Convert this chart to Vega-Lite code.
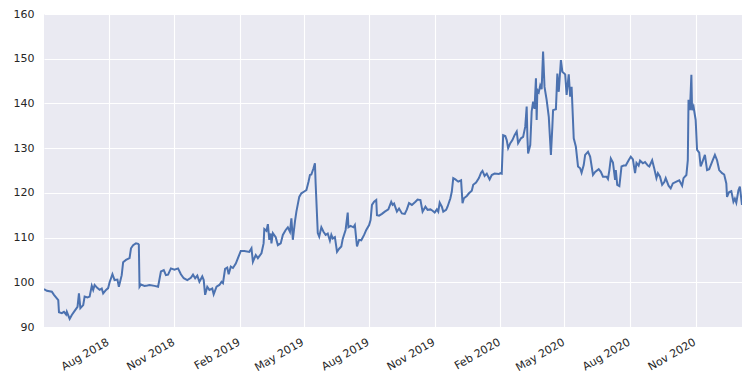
{
  "$schema": "https://vega.github.io/schema/vega-lite/v6.json",
  "width": 698,
  "height": 313,
  "autosize": {"type": "none"},
  "padding": {"left": 44, "top": 14, "right": 14, "bottom": 55},
  "background": "white",
  "config": {
    "view": {"fill": "#EAEAF2", "stroke": null},
    "axis": {
      "domain": false,
      "ticks": false,
      "grid": true,
      "gridColor": "#FFFFFF",
      "gridWidth": 1.1,
      "labelFont": "DejaVu Sans",
      "labelFontSize": 11,
      "labelColor": "#262626",
      "title": null
    }
  },
  "data": {"values": [
    {"d":"2018-05-02","v":98.5},{"d":"2018-05-06","v":98.1},{"d":"2018-05-13","v":97.9},{"d":"2018-05-16","v":97.2},
    {"d":"2018-05-20","v":96.4},{"d":"2018-05-22","v":96.0},{"d":"2018-05-23","v":93.3},{"d":"2018-05-27","v":93.1},
    {"d":"2018-05-30","v":93.4},{"d":"2018-06-02","v":92.8},{"d":"2018-06-03","v":93.4},{"d":"2018-06-07","v":91.8},
    {"d":"2018-06-10","v":92.7},{"d":"2018-06-14","v":93.6},{"d":"2018-06-18","v":94.5},{"d":"2018-06-20","v":97.5},
    {"d":"2018-06-22","v":94.2},{"d":"2018-06-26","v":94.9},{"d":"2018-06-28","v":96.8},{"d":"2018-07-02","v":96.6},
    {"d":"2018-07-05","v":96.8},{"d":"2018-07-08","v":99.2},{"d":"2018-07-10","v":98.3},{"d":"2018-07-12","v":99.4},
    {"d":"2018-07-16","v":98.7},{"d":"2018-07-19","v":98.3},{"d":"2018-07-22","v":98.6},{"d":"2018-07-24","v":97.5},
    {"d":"2018-07-28","v":98.3},{"d":"2018-07-31","v":98.7},{"d":"2018-08-02","v":100.0},{"d":"2018-08-06","v":101.8},
    {"d":"2018-08-09","v":100.5},{"d":"2018-08-13","v":100.6},{"d":"2018-08-15","v":99.0},{"d":"2018-08-19","v":101.6},
    {"d":"2018-08-21","v":104.5},{"d":"2018-08-25","v":105.0},{"d":"2018-08-30","v":105.4},{"d":"2018-09-01","v":107.6},
    {"d":"2018-09-04","v":108.3},{"d":"2018-09-08","v":108.7},{"d":"2018-09-11","v":108.6},{"d":"2018-09-12","v":108.4},
    {"d":"2018-09-13","v":99.0},{"d":"2018-09-15","v":99.5},{"d":"2018-09-20","v":99.2},{"d":"2018-09-24","v":99.3},
    {"d":"2018-09-27","v":99.4},{"d":"2018-10-04","v":99.2},{"d":"2018-10-09","v":99.0},{"d":"2018-10-13","v":102.4},
    {"d":"2018-10-17","v":102.7},{"d":"2018-10-20","v":101.6},{"d":"2018-10-23","v":101.7},{"d":"2018-10-27","v":103.1},
    {"d":"2018-11-01","v":102.8},{"d":"2018-11-06","v":103.1},{"d":"2018-11-10","v":101.8},{"d":"2018-11-14","v":100.9},
    {"d":"2018-11-19","v":100.5},{"d":"2018-11-24","v":101.0},{"d":"2018-11-27","v":101.7},{"d":"2018-11-30","v":100.9},
    {"d":"2018-12-03","v":101.5},{"d":"2018-12-06","v":100.1},{"d":"2018-12-10","v":101.3},{"d":"2018-12-12","v":100.5},
    {"d":"2018-12-14","v":97.2},{"d":"2018-12-17","v":99.0},{"d":"2018-12-20","v":98.3},{"d":"2018-12-24","v":98.6},
    {"d":"2018-12-26","v":97.3},{"d":"2018-12-30","v":99.0},{"d":"2019-01-03","v":99.4},{"d":"2019-01-06","v":100.1},
    {"d":"2019-01-08","v":99.8},{"d":"2019-01-11","v":103.0},{"d":"2019-01-14","v":103.3},{"d":"2019-01-16","v":101.8},
    {"d":"2019-01-19","v":103.5},{"d":"2019-01-22","v":103.2},{"d":"2019-01-26","v":104.2},{"d":"2019-01-29","v":105.4},
    {"d":"2019-02-02","v":107.0},{"d":"2019-02-07","v":107.0},{"d":"2019-02-14","v":106.8},{"d":"2019-02-17","v":107.6},
    {"d":"2019-02-19","v":104.6},{"d":"2019-02-23","v":106.1},{"d":"2019-02-26","v":105.4},{"d":"2019-03-03","v":106.5},
    {"d":"2019-03-06","v":108.7},{"d":"2019-03-07","v":111.9},{"d":"2019-03-10","v":111.5},{"d":"2019-03-12","v":113.0},
    {"d":"2019-03-14","v":109.5},{"d":"2019-03-16","v":110.9},{"d":"2019-03-17","v":108.7},{"d":"2019-03-19","v":111.0},
    {"d":"2019-03-23","v":110.1},{"d":"2019-03-26","v":108.3},{"d":"2019-03-30","v":108.7},{"d":"2019-04-02","v":110.6},
    {"d":"2019-04-06","v":111.7},{"d":"2019-04-09","v":112.3},{"d":"2019-04-12","v":111.3},{"d":"2019-04-14","v":114.3},
    {"d":"2019-04-16","v":109.5},{"d":"2019-04-19","v":113.6},{"d":"2019-04-21","v":115.8},{"d":"2019-04-25","v":119.1},
    {"d":"2019-04-28","v":119.9},{"d":"2019-05-02","v":120.3},{"d":"2019-05-05","v":120.6},{"d":"2019-05-08","v":122.5},
    {"d":"2019-05-10","v":124.0},{"d":"2019-05-12","v":124.1},{"d":"2019-05-15","v":125.5},{"d":"2019-05-17","v":126.6},
    {"d":"2019-05-18","v":122.1},{"d":"2019-05-21","v":111.0},{"d":"2019-05-23","v":110.2},{"d":"2019-05-26","v":112.3},
    {"d":"2019-05-29","v":111.3},{"d":"2019-06-01","v":110.6},{"d":"2019-06-04","v":110.9},{"d":"2019-06-07","v":109.3},
    {"d":"2019-06-09","v":110.6},{"d":"2019-06-11","v":109.8},{"d":"2019-06-14","v":110.1},{"d":"2019-06-17","v":106.8},
    {"d":"2019-06-20","v":107.5},{"d":"2019-06-23","v":108.0},{"d":"2019-06-25","v":109.7},{"d":"2019-06-29","v":111.7},
    {"d":"2019-07-02","v":115.6},{"d":"2019-07-03","v":112.3},{"d":"2019-07-06","v":112.6},{"d":"2019-07-10","v":112.3},
    {"d":"2019-07-12","v":112.8},{"d":"2019-07-15","v":108.0},{"d":"2019-07-18","v":109.5},{"d":"2019-07-21","v":109.4},
    {"d":"2019-07-25","v":110.6},{"d":"2019-07-28","v":111.7},{"d":"2019-08-01","v":112.8},{"d":"2019-08-03","v":113.9},
    {"d":"2019-08-05","v":117.3},{"d":"2019-08-08","v":118.0},{"d":"2019-08-11","v":118.4},{"d":"2019-08-12","v":115.0},
    {"d":"2019-08-15","v":114.9},{"d":"2019-08-19","v":115.3},{"d":"2019-08-23","v":115.8},{"d":"2019-08-28","v":116.3},
    {"d":"2019-09-01","v":118.0},{"d":"2019-09-03","v":117.3},{"d":"2019-09-05","v":117.6},{"d":"2019-09-09","v":115.8},
    {"d":"2019-09-12","v":116.5},{"d":"2019-09-16","v":115.4},{"d":"2019-09-20","v":115.3},{"d":"2019-09-23","v":116.3},
    {"d":"2019-09-26","v":117.7},{"d":"2019-09-30","v":117.3},{"d":"2019-10-05","v":118.0},{"d":"2019-10-08","v":118.5},
    {"d":"2019-10-12","v":118.4},{"d":"2019-10-15","v":115.8},{"d":"2019-10-19","v":116.9},{"d":"2019-10-22","v":116.2},
    {"d":"2019-10-26","v":116.3},{"d":"2019-10-29","v":116.0},{"d":"2019-11-01","v":115.6},{"d":"2019-11-04","v":116.3},
    {"d":"2019-11-06","v":115.8},{"d":"2019-11-08","v":117.8},{"d":"2019-11-11","v":116.9},{"d":"2019-11-13","v":115.8},
    {"d":"2019-11-17","v":116.2},{"d":"2019-11-19","v":116.9},{"d":"2019-11-23","v":118.8},{"d":"2019-11-25","v":120.3},
    {"d":"2019-11-27","v":123.3},{"d":"2019-11-30","v":123.0},{"d":"2019-12-04","v":122.5},{"d":"2019-12-08","v":122.8},
    {"d":"2019-12-10","v":117.7},{"d":"2019-12-12","v":118.8},{"d":"2019-12-16","v":119.3},{"d":"2019-12-19","v":119.9},
    {"d":"2019-12-23","v":120.5},{"d":"2019-12-25","v":121.8},{"d":"2019-12-29","v":122.3},{"d":"2020-01-02","v":123.3},
    {"d":"2020-01-05","v":124.5},{"d":"2020-01-07","v":124.9},{"d":"2020-01-10","v":123.8},{"d":"2020-01-13","v":124.3},
    {"d":"2020-01-17","v":123.0},{"d":"2020-01-20","v":124.0},{"d":"2020-01-24","v":124.3},{"d":"2020-01-30","v":124.2},
    {"d":"2020-02-01","v":124.4},{"d":"2020-02-03","v":124.3},{"d":"2020-02-05","v":132.9},{"d":"2020-02-08","v":132.7},
    {"d":"2020-02-10","v":131.8},{"d":"2020-02-12","v":130.0},{"d":"2020-02-15","v":131.1},{"d":"2020-02-18","v":131.8},
    {"d":"2020-02-21","v":132.9},{"d":"2020-02-24","v":133.7},{"d":"2020-02-26","v":131.1},{"d":"2020-03-01","v":132.2},
    {"d":"2020-03-04","v":132.5},{"d":"2020-03-07","v":134.8},{"d":"2020-03-09","v":139.3},{"d":"2020-03-10","v":132.5},
    {"d":"2020-03-11","v":128.8},{"d":"2020-03-14","v":130.7},{"d":"2020-03-16","v":138.2},{"d":"2020-03-18","v":140.4},
    {"d":"2020-03-20","v":138.8},{"d":"2020-03-22","v":145.6},{"d":"2020-03-23","v":136.3},{"d":"2020-03-24","v":143.0},
    {"d":"2020-03-26","v":142.5},{"d":"2020-03-28","v":144.0},{"d":"2020-03-30","v":143.2},{"d":"2020-04-01","v":151.6},
    {"d":"2020-04-03","v":143.7},{"d":"2020-04-06","v":140.8},{"d":"2020-04-09","v":137.0},{"d":"2020-04-12","v":128.5},
    {"d":"2020-04-14","v":134.8},{"d":"2020-04-15","v":138.5},{"d":"2020-04-19","v":138.7},{"d":"2020-04-21","v":146.7},
    {"d":"2020-04-23","v":142.6},{"d":"2020-04-26","v":149.7},{"d":"2020-04-28","v":147.1},{"d":"2020-05-02","v":146.5},
    {"d":"2020-05-04","v":141.9},{"d":"2020-05-07","v":146.5},{"d":"2020-05-09","v":141.5},{"d":"2020-05-11","v":143.7},
    {"d":"2020-05-14","v":132.2},{"d":"2020-05-17","v":130.3},{"d":"2020-05-20","v":125.9},{"d":"2020-05-23","v":125.5},
    {"d":"2020-05-25","v":124.5},{"d":"2020-05-28","v":126.2},{"d":"2020-05-30","v":128.5},{"d":"2020-06-03","v":129.2},
    {"d":"2020-06-06","v":128.1},{"d":"2020-06-10","v":124.0},{"d":"2020-06-13","v":124.7},{"d":"2020-06-18","v":125.3},
    {"d":"2020-06-21","v":124.7},{"d":"2020-06-24","v":123.6},{"d":"2020-06-29","v":123.6},{"d":"2020-07-01","v":123.1},
    {"d":"2020-07-03","v":125.1},{"d":"2020-07-05","v":127.7},{"d":"2020-07-08","v":126.8},{"d":"2020-07-11","v":122.9},
    {"d":"2020-07-12","v":125.1},{"d":"2020-07-14","v":121.8},{"d":"2020-07-17","v":121.5},{"d":"2020-07-20","v":125.9},
    {"d":"2020-07-23","v":126.1},{"d":"2020-07-26","v":126.1},{"d":"2020-07-30","v":127.3},{"d":"2020-08-02","v":128.1},
    {"d":"2020-08-05","v":127.5},{"d":"2020-08-08","v":124.4},{"d":"2020-08-10","v":126.7},{"d":"2020-08-13","v":126.1},
    {"d":"2020-08-15","v":127.2},{"d":"2020-08-19","v":126.6},{"d":"2020-08-22","v":126.9},{"d":"2020-08-26","v":126.1},
    {"d":"2020-08-28","v":125.9},{"d":"2020-09-01","v":127.3},{"d":"2020-09-04","v":125.4},{"d":"2020-09-07","v":123.3},
    {"d":"2020-09-09","v":124.4},{"d":"2020-09-12","v":123.6},{"d":"2020-09-15","v":121.8},{"d":"2020-09-18","v":122.4},
    {"d":"2020-09-20","v":123.3},{"d":"2020-09-24","v":121.6},{"d":"2020-09-27","v":121.0},{"d":"2020-09-30","v":122.1},
    {"d":"2020-10-05","v":122.5},{"d":"2020-10-09","v":122.8},{"d":"2020-10-13","v":121.6},{"d":"2020-10-15","v":123.3},
    {"d":"2020-10-19","v":124.0},{"d":"2020-10-21","v":127.3},{"d":"2020-10-22","v":140.8},{"d":"2020-10-24","v":138.5},
    {"d":"2020-10-26","v":146.4},{"d":"2020-10-27","v":138.5},{"d":"2020-10-29","v":139.3},{"d":"2020-11-01","v":136.3},
    {"d":"2020-11-03","v":129.6},{"d":"2020-11-06","v":129.0},{"d":"2020-11-08","v":125.9},{"d":"2020-11-10","v":126.7},
    {"d":"2020-11-14","v":128.5},{"d":"2020-11-17","v":125.1},{"d":"2020-11-20","v":125.3},{"d":"2020-11-25","v":127.3},
    {"d":"2020-11-28","v":128.5},{"d":"2020-12-01","v":127.3},{"d":"2020-12-04","v":125.1},{"d":"2020-12-08","v":124.4},
    {"d":"2020-12-11","v":124.1},{"d":"2020-12-14","v":122.1},{"d":"2020-12-15","v":119.1},{"d":"2020-12-18","v":120.2},
    {"d":"2020-12-21","v":120.4},{"d":"2020-12-24","v":118.0},{"d":"2020-12-26","v":118.7},{"d":"2020-12-28","v":117.8},
    {"d":"2020-12-31","v":120.6},{"d":"2021-01-02","v":121.4},{"d":"2021-01-05","v":117.3}
  ]},
  "mark": {"type": "line", "color": "#4C72B0", "strokeWidth": 2, "clip": true},
  "encoding": {
    "x": {
      "field": "d",
      "type": "temporal",
      "scale": {"type": "utc"},
      "axis": {
        "format": "%b %Y",
        "labelAngle": -30,
        "labelAlign": "right",
        "labelBaseline": "top",
        "labelPadding": 9,
        "labelOffset": -4,
        "labelOverlap": false,
        "values": [
          {"year": 2018, "month": 8, "date": 1, "utc": true},
          {"year": 2018, "month": 11, "date": 1, "utc": true},
          {"year": 2019, "month": 2, "date": 1, "utc": true},
          {"year": 2019, "month": 5, "date": 1, "utc": true},
          {"year": 2019, "month": 8, "date": 1, "utc": true},
          {"year": 2019, "month": 11, "date": 1, "utc": true},
          {"year": 2020, "month": 2, "date": 1, "utc": true},
          {"year": 2020, "month": 5, "date": 1, "utc": true},
          {"year": 2020, "month": 8, "date": 1, "utc": true},
          {"year": 2020, "month": 11, "date": 1, "utc": true}
        ]
      }
    },
    "y": {
      "field": "v",
      "type": "quantitative",
      "scale": {"domain": [90, 160], "nice": false, "zero": false},
      "axis": {"values": [90, 100, 110, 120, 130, 140, 150, 160], "labelPadding": 10}
    }
  }
}
